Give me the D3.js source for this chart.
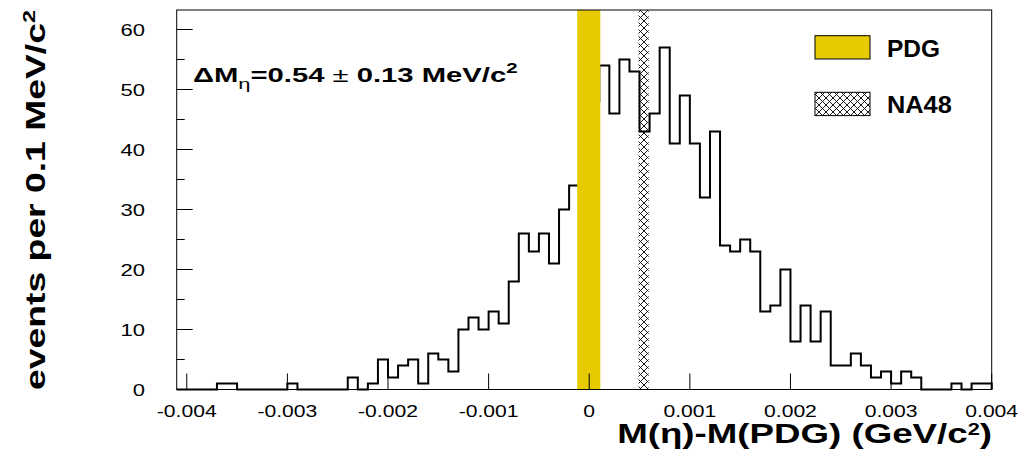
<!DOCTYPE html>
<html>
<head>
<meta charset="utf-8">
<script src="https://cdn.jsdelivr.net/npm/d3@7"></script>
<style>
html,body{margin:0;padding:0;background:#fff;}
svg{display:block;font-family:"Liberation Sans",Arial,sans-serif;}
</style>
</head>
<body>
<svg id="chart" width="1023" height="468"></svg>
<script>
// ---- data ----
const binLow = -0.0041;
const binWidth = 0.0001;
const counts = [
  0,0,0,0,1,1,0,0,0,0,
  0,1,0,0,0,0,0,2,0,1,
  5,2,4,5,1,6,5,3,10,12,
  10,13,11,18,26,23,26,21,30,34,
  41,48,54,46,55,53,43,46,57,41,
  49,41,32,43,24,23,25,23,13,14,
  20,8,14,8,13,4,4,6,4,2,
  3,1,3,2,0,0,0,1,0,1,
  1
];
const xTicks = [-0.004,-0.003,-0.002,-0.001,0,0.001,0.002,0.003,0.004];
const xTickLabels = ["-0.004","-0.003","-0.002","-0.001","0","0.001","0.002","0.003","0.004"];
const yTicks = [0,10,20,30,40,50,60];
const yMinorTicks = [5,15,25,35,45,55];
const pdgBand = [-0.00012, 0.00011];
const na48Band = [0.00049, 0.00059];
const legendItems = ["PDG","NA48"];

// ---- layout ----
const svg = d3.select("#chart");
const L = 176.7, R = 991.7, T = 10, B = 389.5;
const x = d3.scaleLinear().domain([-0.0041, 0.004]).range([L, R]);
const y = d3.scaleLinear().domain([0, 63.25]).range([B, T]);

function stretch(sel, sx, ax, ay){
  sel.attr("transform", `translate(${ax},${ay}) scale(${sx},1) translate(${-ax},${-ay})`);
}
function fit(sel, target, ax, ay){
  const w = sel.node().getBBox().width;
  stretch(sel, target / w, ax, ay);
}

// pattern
const defs = svg.append("defs");
const pat = defs.append("pattern").attr("id","hatch").attr("patternUnits","userSpaceOnUse")
  .attr("width",7).attr("height",7);
pat.append("path").attr("d","M0,0L7,7M7,0L0,7M-1,6L1,8M6,-1L8,1M-1,1L1,-1M6,8L8,6")
  .attr("stroke","#000").attr("stroke-width",0.9).attr("fill","none");

// histogram step path
const pts = [[x(binLow), y(0)]];
counts.forEach((c,i)=>{
  const x0 = x(binLow + i*binWidth), x1 = x(binLow + (i+1)*binWidth);
  pts.push([x0, y(c)]); pts.push([x1, y(c)]);
});
pts.push([x(binLow + counts.length*binWidth), y(0)]);
svg.append("path").attr("d", d3.line()(pts))
  .attr("fill","none").attr("stroke","#000").attr("stroke-width",2);

// bands
svg.append("rect").attr("x", x(pdgBand[0])).attr("width", x(pdgBand[1])-x(pdgBand[0]))
  .attr("y", T).attr("height", B-T).attr("fill","#e6cb00");
svg.append("rect").attr("x", x(na48Band[0])).attr("width", x(na48Band[1])-x(na48Band[0]))
  .attr("y", T).attr("height", B-T).attr("fill","url(#hatch)");

// frame
svg.append("rect").attr("x",L).attr("y",T).attr("width",R-L).attr("height",B-T)
  .attr("fill","none").attr("stroke","#000").attr("stroke-width",1);

// y axis ticks
const yAxis = svg.append("g");
yAxis.selectAll("line.maj").data(yTicks).join("line")
  .attr("x1",L).attr("x2",L+16).attr("y1",d=>y(d)).attr("y2",d=>y(d))
  .attr("stroke","#000");
yAxis.selectAll("line.min").data(yMinorTicks).join("line")
  .attr("x1",L).attr("x2",L+8).attr("y1",d=>y(d)).attr("y2",d=>y(d))
  .attr("stroke","#000");
yAxis.selectAll("text").data(yTicks).join("text")
  .attr("x",145).attr("y",d=>y(d)+6.5).attr("text-anchor","end")
  .attr("font-size",17).text(d=>d)
  .each(function(d){ stretch(d3.select(this), 1.3, 145, y(d)); });

// x axis ticks
const xAxis = svg.append("g");
xAxis.selectAll("line").data(xTicks).join("line")
  .attr("x1",d=>x(d)).attr("x2",d=>x(d)).attr("y1",B).attr("y2",B-16)
  .attr("stroke","#000");
xAxis.selectAll("text").data(xTicks).join("text")
  .attr("x",d=>x(d)).attr("y",417).attr("text-anchor","middle")
  .attr("font-size",16).text((d,i)=>xTickLabels[i])
  .each(function(d){ stretch(d3.select(this), 1.32, x(d), 417); });

// axis titles
const xt = svg.append("text").attr("x",992).attr("y",443).attr("text-anchor","end")
  .attr("font-size",27).attr("font-weight","bold");
xt.append("tspan").text("M(η)-M(PDG) (GeV/c");
xt.append("tspan").attr("font-size",16).attr("dy",-8).text("2");
xt.append("tspan").attr("dy",8).text(")");
fit(xt, 375, 992, 443);

const ytg = svg.append("g").attr("transform","translate(45,10) rotate(-90)");
const yt = ytg.append("text").attr("x",0).attr("y",0)
  .attr("text-anchor","end").attr("font-size",27).attr("font-weight","bold");
yt.append("tspan").text("events per 0.1 MeV/c");
yt.append("tspan").attr("font-size",17).attr("dy",-10).text("2");
fit(yt, 380, 0, 0);

// annotation
const an = svg.append("text").attr("x",193).attr("y",82).attr("font-size",20).attr("font-weight","bold");
an.append("tspan").text("ΔM");
an.append("tspan").attr("font-size",15).attr("font-weight","normal").attr("dy",7).text("η");
an.append("tspan").attr("dy",-7).text("=0.54 ");
an.append("tspan").attr("font-weight","normal").text("±");
an.append("tspan").text(" 0.13 MeV/c");
an.append("tspan").attr("font-size",14).attr("dy",-9).text("2");
fit(an, 325, 193, 82);

// legend
const lg = svg.append("g");
const legY = [35.7, 92.3];
const legW = [53, 65];
lg.selectAll("rect").data(legendItems).join("rect")
  .attr("x",815).attr("y",(d,i)=>legY[i]).attr("width",55).attr("height",23.3)
  .attr("fill",(d,i)=> i===0 ? "#e6cb00" : "url(#hatch)")
  .attr("stroke","#000").attr("stroke-width",1);
lg.selectAll("text").data(legendItems).join("text")
  .attr("x",887).attr("y",(d,i)=>legY[i]+21).attr("font-size",23).attr("font-weight","bold")
  .text(d=>d)
  .each(function(d,i){ fit(d3.select(this), legW[i], 887, legY[i]+21); });
</script>
</body>
</html>
